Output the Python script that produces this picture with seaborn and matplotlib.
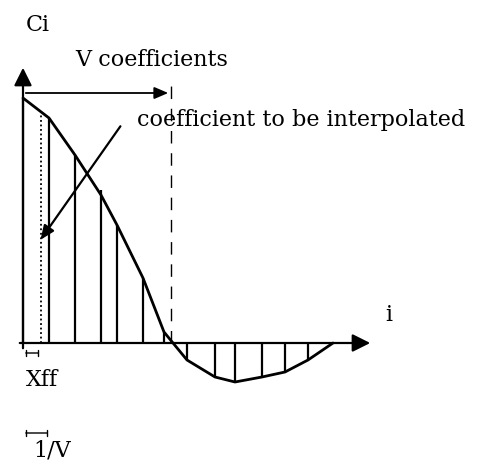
import matplotlib
matplotlib.use("Agg")
import matplotlib.pyplot as plt
import seaborn as sns
import pandas as pd
import numpy as np

# DATA (hand-drawn filter coefficients, axis units)
stem_pos = [0, 26, 52, 78, 94, 120, 141, 164, 192, 212, 239, 262, 285]
stem_val = [245, 225, 188, 153, 118, 65, 11, -17, -34, -39, -34, -29, -17]

curve_x = [0, 26, 52, 78, 94, 120, 141, 150, 164, 192, 212, 239, 262, 285, 310]
curve_y = [245, 225, 188, 148, 118, 65, 11, 0, -17, -34, -39, -34, -29, -17, 0]

interp_pos = 18      # the coefficient to be interpolated (dotted)
interp_val = 228
v_span = 148         # extent of V coefficients (dashed)

FONT = "DejaVu Serif"
FS = 16

sns.set_theme(style="white")
plt.rcParams["font.family"] = FONT
plt.rcParams["text.color"] = "black"

fig = plt.figure(figsize=(4.81, 4.65), dpi=100)
ax = fig.add_axes([0, 0, 1, 1])
ax.set_xlim(-23, 458)
ax.set_ylim(-122, 343)
ax.axis("off")

# STEMS
ax.vlines(stem_pos, 0, stem_val, color="black", lw=1.6)
ax.vlines([interp_pos], 0, [interp_val], color="black", lw=1.3, linestyles=(0, (1, 1.5)))
ax.vlines([v_span], 0, 262, color="black", lw=1.0, linestyles=(0, (9, 7)))

# CURVE
df = pd.DataFrame({"i": curve_x, "c": curve_y})
sns.lineplot(data=df, x="i", y="c", sort=False, color="black", lw=2.0, ax=ax)

# AXES WITH ARROWS
arr = dict(arrowstyle="-|>,head_length=0.9,head_width=0.45", color="black", lw=1.6)
ax.annotate("", xy=(350, 0), xytext=(-6, 0), arrowprops=arr)
ax.annotate("", xy=(0, 278), xytext=(0, -8), arrowprops=arr)

# V coefficients span arrow
ax.annotate("", xy=(v_span, 250), xytext=(0, 250),
            arrowprops=dict(arrowstyle="-|>,head_length=0.7,head_width=0.3", color="black", lw=1.3))

# pointer to interpolated coefficient
ax.annotate("", xy=(16, 101), xytext=(99, 219),
            arrowprops=dict(arrowstyle="-|>,head_length=0.7,head_width=0.3", color="black", lw=1.6))

# Xff and 1/V brackets
ax.annotate("", xy=(0, -10), xytext=(interp_pos, -10),
            arrowprops=dict(arrowstyle="|-|,widthA=0.2,widthB=0.2", color="black", lw=1.0))
ax.annotate("", xy=(0, -90), xytext=(27, -90),
            arrowprops=dict(arrowstyle="|-|,widthA=0.2,widthB=0.2", color="black", lw=1.0))

# LABELS
ax.text(3, 312, "Ci", fontsize=FS, ha="left", va="baseline")
ax.text(52, 277, "V coefficients", fontsize=FS, ha="left", va="baseline")
ax.text(114, 217, "coefficient to be interpolated", fontsize=FS, ha="left", va="baseline")
ax.text(362, 22, "i", fontsize=FS, ha="left", va="baseline")
ax.text(3, -43, "Xff", fontsize=FS, ha="left", va="baseline")
ax.text(10, -113, "1/V", fontsize=FS, ha="left", va="baseline")

fig.savefig("out.png", dpi=100)
